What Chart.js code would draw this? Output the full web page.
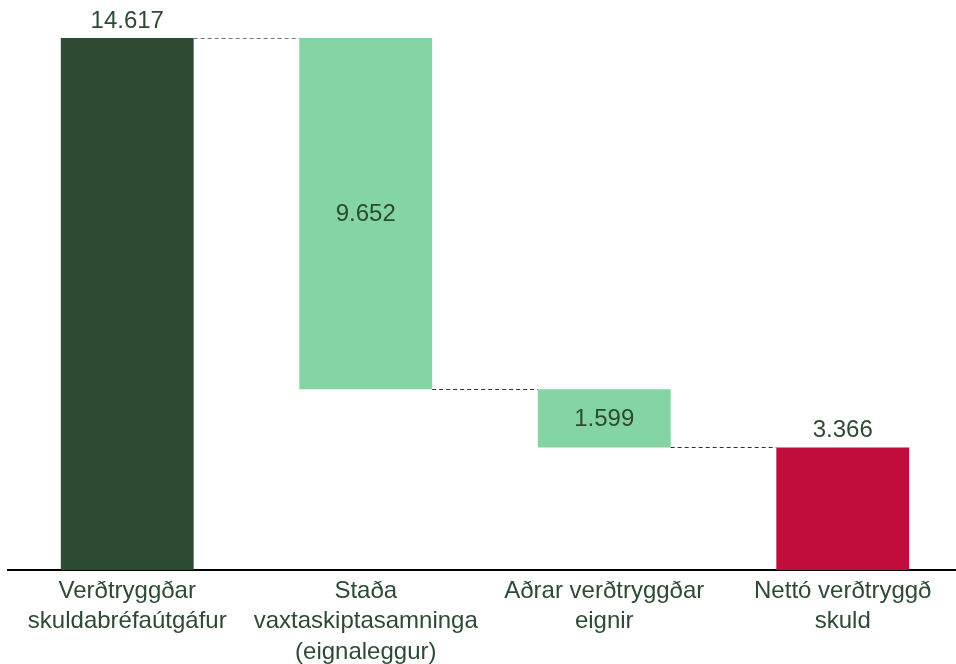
<!DOCTYPE html>
<html>
<head>
<meta charset="utf-8">
<script src="https://cdn.jsdelivr.net/npm/chart.js@4.4.1/dist/chart.umd.min.js"></script>
<style>
  html, body { margin: 0; padding: 0; background: #ffffff; overflow: hidden; }
  #wrap { width: 956px; height: 664px; overflow: hidden; position: relative; }
  canvas { display: block; }
</style>
</head>
<body>
<div id="wrap"><canvas id="c" width="962" height="664"></canvas></div>
<script>
// ---- data ----
const categories = [
  ["Verðtryggðar", "skuldabréfaútgáfur"],
  ["Staða", "vaxtaskiptasamninga", "(eignaleggur)"],
  ["Aðrar verðtryggðar", "eignir"],
  ["Nettó verðtryggð", "skuld"]
];
const changes = [14.617, -9.652, -1.599, 3.366];
const valueLabels = ["14.617", "9.652", "1.599", "3.366"];
const isTotal = [true, false, false, true];
const barColors = ["#2d4a33", "#84d4a4", "#84d4a4", "#c00d3c"];

// build floating ranges
const ranges = [];
let running = 0;
changes.forEach((v, i) => {
  if (isTotal[i]) {
    ranges.push([0, v]);
    running = v;
  } else {
    const next = running + v;
    ranges.push([Math.min(running, next), Math.max(running, next)]);
    running = next;
  }
});

const textColor = "#2d4a33";
const fontFamily = "'Liberation Sans', Arial, sans-serif";

const labelPlugin = {
  id: "wfLabels",
  afterDatasetsDraw(chart) {
    const ctx = chart.ctx;
    const meta = chart.getDatasetMeta(0);
    const ys = chart.scales.y;
    ctx.save();
    // connectors
    ctx.lineWidth = 1;
    ctx.setLineDash([4, 3]);
    for (let i = 0; i < meta.data.length - 1; i++) {
      const a = meta.data[i], b = meta.data[i + 1];
      let level;
      if (isTotal[i]) level = ranges[i][1];
      else level = changes[i] < 0 ? ranges[i][0] : ranges[i][1];
      const y = Math.round(ys.getPixelForValue(level)) + 0.5;
      ctx.strokeStyle = i === 0 ? "#777777" : "#333333";
      ctx.beginPath();
      ctx.moveTo(a.x + a.width / 2, y);
      ctx.lineTo(b.x - b.width / 2, y);
      ctx.stroke();
    }
    ctx.setLineDash([]);
    // value labels
    ctx.fillStyle = textColor;
    ctx.font = "24px " + fontFamily;
    ctx.textAlign = "center";
    meta.data.forEach((bar, i) => {
      const top = ys.getPixelForValue(ranges[i][1]);
      const bot = ys.getPixelForValue(ranges[i][0]);
      if (isTotal[i]) {
        ctx.textBaseline = "alphabetic";
        ctx.fillText(valueLabels[i], bar.x, top - 10);
      } else {
        ctx.textBaseline = "middle";
        ctx.fillText(valueLabels[i], bar.x, (top + bot) / 2 + 1);
      }
    });
    ctx.restore();
  }
};

new Chart(document.getElementById("c"), {
  type: "bar",
  data: {
    labels: categories,
    datasets: [{
      data: ranges,
      backgroundColor: barColors,
      borderWidth: 0,
      categoryPercentage: 1,
      barPercentage: 0.557
    }]
  },
  options: {
    responsive: false,
    animation: false,
    layout: { padding: { left: 8, right: 0, top: 38, bottom: 0 } },
    plugins: {
      legend: { display: false },
      tooltip: { enabled: false }
    },
    scales: {
      x: {
        grid: { display: false, drawTicks: false },
        border: { display: true, color: "#000000", width: 2 },
        ticks: {
          color: textColor,
          padding: 6,
          maxRotation: 0,
          autoSkip: false,
          font: { family: fontFamily, size: 24, lineHeight: 1.27 }
        },
        afterFit(scale) { scale.height = 94; }
      },
      y: {
        display: false,
        min: 0,
        max: 14.617
      }
    }
  },
  plugins: [labelPlugin]
});
</script>
</body>
</html>
